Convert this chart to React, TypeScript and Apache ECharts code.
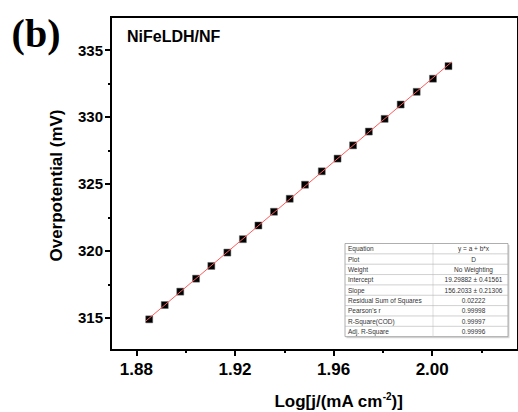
import React, { useEffect, useRef } from "react";
import * as echarts from "echarts";

// Data
const logJ = [1.8852, 1.8915, 1.8978, 1.9042, 1.9104, 1.9169, 1.9232, 1.9295, 1.9358, 1.9422, 1.9484, 1.9552, 1.9616, 1.9679, 1.9743, 1.9807, 1.9872, 1.9937, 2.0003, 2.0066];
const overpotential = [314.88, 315.95, 316.95, 317.92, 318.87, 319.87, 320.87, 321.89, 322.92, 323.89, 324.94, 325.94, 326.89, 327.88, 328.91, 329.86, 330.93, 331.88, 332.86, 333.8];

const xMajorTicks = [1.88, 1.92, 1.96, 2.0];
const xMinorTicks = [1.9, 1.94, 1.98, 2.02];
const yMajorTicks = [315, 320, 325, 330, 335];
const yMinorTicks = [317.5, 322.5, 327.5, 332.5];

const tableLabels = ["Equation", "Plot", "Weight", "Intercept", "Slope", "Residual Sum of Squares", "Pearson's r", "R-Square(COD)", "Adj. R-Square"];
const tableValues = ["y = a + b*x", "D", "No Weighting", "19.29882 ± 0.41561", "156.2033 ± 0.21306", "0.02222", "0.99998", "0.99997", "0.99996"];

const sampleLabel = "NiFeLDH/NF";
const panelLabel = "(b)";

function linearFit(xs: number[], ys: number[]) {
  const n = xs.length;
  const mx = xs.reduce((a, b) => a + b, 0) / n;
  const my = ys.reduce((a, b) => a + b, 0) / n;
  let sxy = 0, sxx = 0;
  for (let i = 0; i < n; i++) {
    sxy += (xs[i] - mx) * (ys[i] - my);
    sxx += (xs[i] - mx) * (xs[i] - mx);
  }
  const b = sxy / sxx;
  return { a: my - b * mx, b };
}

export default function App() {
  const ref = useRef<HTMLDivElement>(null);
  useEffect(() => {
    if (!ref.current) return;
    const chart = echarts.init(ref.current, null, { renderer: "svg" });
    const fit = linearFit(logJ, overpotential);
    const ext = 0.0013;
    const x0 = Math.min(...logJ) - ext;
    const x1 = Math.max(...logJ) + ext;
    const fitLine = [
      [x0, fit.a + fit.b * x0],
      [x1, fit.a + fit.b * x1],
    ];

    const font = "'Liberation Sans', Arial, sans-serif";
    const xMin = 1.8697, xMax = 2.0348;
    const yMin = 312.59, yMax = 337.47;

    const tX = 345, tY = 243.5, tW = 163, rowH = 10.35, col = 88;
    const tableChildren: any[] = [
      { type: "rect", shape: { x: 1.5, y: 1.5, width: tW, height: rowH * tableLabels.length }, style: { fill: "#d8d8d8" } },
      { type: "rect", shape: { x: 0, y: 0, width: tW, height: rowH * tableLabels.length }, style: { fill: "#fff", stroke: "#9a9a9a", lineWidth: 0.8 } },
      { type: "line", shape: { x1: col, y1: 0, x2: col, y2: rowH * tableLabels.length }, style: { stroke: "#c8c8c8", lineWidth: 0.6 } },
    ];
    tableLabels.forEach((lab, i) => {
      if (i > 0) {
        tableChildren.push({ type: "line", shape: { x1: 0, y1: rowH * i, x2: tW, y2: rowH * i }, style: { stroke: "#b0b0b0", lineWidth: 0.6 } });
      }
      tableChildren.push({ type: "text", x: 3, y: rowH * (i + 0.5), style: { text: lab, font: `6.5px ${font}`, fill: "#333", align: "left", verticalAlign: "middle" } });
      tableChildren.push({ type: "text", x: col + (tW - col) / 2 + 3, y: rowH * (i + 0.5), style: { text: tableValues[i], font: `6.5px ${font}`, fill: "#333", align: "center", verticalAlign: "middle" } });
    });

    chart.setOption({
      animation: false,
      backgroundColor: "#fff",
      grid: { left: 111, top: 17, width: 454, height: 333, show: true, borderColor: "#000", borderWidth: 2, containLabel: false },
      xAxis: [
        {
          type: "value", min: xMin, max: xMax,
          axisLine: { show: true, onZero: false, lineStyle: { color: "#000", width: 2 } },
          axisTick: { show: true, customValues: xMajorTicks, length: 6, lineStyle: { color: "#000", width: 2 } },
          axisLabel: { show: true, customValues: xMajorTicks, formatter: (v: number) => v.toFixed(2), color: "#000", fontWeight: "bold", fontSize: 17, fontFamily: font, margin: 11 },
          splitLine: { show: false },
        },
        {
          type: "value", min: xMin, max: xMax, position: "bottom",
          axisLine: { show: false },
          axisTick: { show: true, customValues: xMinorTicks, length: 3, lineStyle: { color: "#000", width: 2 } },
          axisLabel: { show: false },
          splitLine: { show: false },
        },
      ],
      yAxis: [
        {
          type: "value", min: yMin, max: yMax,
          axisLine: { show: true, onZero: false, lineStyle: { color: "#000", width: 2 } },
          axisTick: { show: true, customValues: yMajorTicks, length: 6, lineStyle: { color: "#000", width: 2 } },
          axisLabel: { show: true, customValues: yMajorTicks, color: "#000", fontWeight: "bold", fontSize: 15, fontFamily: font, margin: 8 },
          splitLine: { show: false },
        },
        {
          type: "value", min: yMin, max: yMax, position: "left",
          axisLine: { show: false },
          axisTick: { show: true, customValues: yMinorTicks, length: 3, lineStyle: { color: "#000", width: 2 } },
          axisLabel: { show: false },
          splitLine: { show: false },
        },
      ],
      series: [
        {
          type: "scatter", xAxisIndex: 0, yAxisIndex: 0,
          data: logJ.map((x, i) => [x, overpotential[i]]),
          symbol: "rect", symbolSize: 7,
          itemStyle: { color: "#000", opacity: 1, borderColor: "#666", borderWidth: 0.5 },
          z: 2,
        },
        {
          type: "line", xAxisIndex: 0, yAxisIndex: 0,
          data: fitLine, showSymbol: false, symbol: "none",
          lineStyle: { color: "#ff5a5a", width: 1 },
          z: 3,
        },
      ],
      graphic: [
        { type: "text", x: 36, y: 33, style: { text: panelLabel, font: `bold 40px 'Liberation Serif', 'Times New Roman', serif`, fill: "#000", align: "center", verticalAlign: "middle" } },
        { type: "text", x: 127, y: 36, style: { text: sampleLabel, font: `bold 16px ${font}`, fill: "#000", align: "left", verticalAlign: "middle" } },
        { type: "text", x: 56.5, y: 185.5, rotation: Math.PI / 2, style: { text: "Overpotential (mV)", font: `bold 17px ${font}`, fill: "#000", align: "center", verticalAlign: "middle" } },
        {
          type: "text", x: 338.5, y: 401,
          style: {
            text: "{a|Log[j/(mA cm}{s|-2}{a|)]}",
            align: "center", verticalAlign: "middle",
            rich: {
              a: { fontSize: 17, fontWeight: "bold", fontFamily: font, fill: "#000", color: "#000", lineHeight: 20 },
              s: { fontSize: 10, fontWeight: "bold", fontFamily: font, fill: "#000", color: "#000", verticalAlign: "top", lineHeight: 20, padding: [0, 0, 6, 0] },
            },
          },
        },
        { type: "group", x: tX, y: tY, children: tableChildren },
      ],
    });
    return () => chart.dispose();
  }, []);
  return <div ref={ref} style={{ position: "fixed", left: 0, top: 0, width: 518, height: 412 }} />;
}
